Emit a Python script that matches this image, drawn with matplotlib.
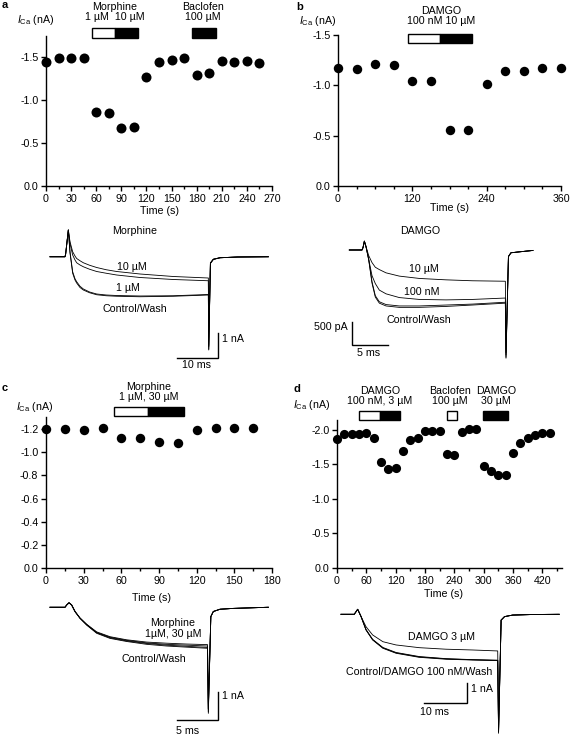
import matplotlib
matplotlib.use('Agg')
import matplotlib.pyplot as plt
from matplotlib.patches import Rectangle
from matplotlib.ticker import MultipleLocator, FormatStrFormatter

plt.rcParams['font.family'] = ['Liberation Sans', 'DejaVu Sans']
plt.rcParams['axes.unicode_minus'] = False
plt.rcParams['mathtext.fontset'] = 'custom'
plt.rcParams['mathtext.rm'] = 'Liberation Sans'
plt.rcParams['mathtext.it'] = 'Liberation Sans:italic'

# ---------------- time-course data (s, nA) ----------------
a_time = [0, 15, 30, 45, 60, 75, 90, 105, 120, 135, 150, 165, 180, 195, 210, 225, 240, 255]
a_ica = [-1.44, -1.49, -1.49, -1.49, -0.86, -0.845, -0.68, -0.69, -1.27, -1.44, -1.47, -1.49,
         -1.29, -1.31, -1.45, -1.44, -1.45, -1.43]

b_time = [0, 30, 60, 90, 120, 150, 180, 210, 240, 270, 300, 330, 360]
b_ica = [-1.17, -1.16, -1.21, -1.20, -1.04, -1.04, -0.56, -0.56, -1.01, -1.14, -1.14, -1.17, -1.17]

c_time = [0, 15, 30, 45, 60, 75, 90, 105, 120, 135, 150, 165]
c_ica = [-1.20, -1.20, -1.19, -1.21, -1.12, -1.12, -1.09, -1.08, -1.19, -1.21, -1.21, -1.21]

d_time = [0, 15, 30, 45, 60, 75, 90, 105, 120, 135, 150, 165, 180, 195, 210, 225, 240, 255,
          270, 285, 300, 315, 330, 345, 360, 375, 390, 405, 420, 435]
d_ica = [-1.87, -1.94, -1.94, -1.94, -1.95, -1.89, -1.53, -1.44, -1.45, -1.70, -1.86, -1.89,
         -1.99, -1.98, -1.99, -1.65, -1.64, -1.97, -2.01, -2.01, -1.48, -1.41, -1.35, -1.35,
         -1.66, -1.81, -1.89, -1.92, -1.95, -1.95]

# drug application periods (s): (start, end, fill)
a_drugs = [(55, 82, 'white'), (82, 110, 'black'), (174, 203, 'black')]
b_drugs = [(113, 164, 'white'), (164, 216, 'black')]
c_drugs = [(54, 81, 'white'), (81, 110, 'black')]
d_drugs = [(45, 87, 'white'), (87, 128, 'black'), (224, 246, 'white'), (299, 350, 'black')]

# ---------------- current traces (ms, nA) ----------------
ta = [0, 3.6, 3.75, 4.4, 4.8, 5.44, 6.0, 6.4, 7.2, 8.0, 9.5, 11.2, 13.5, 16.0, 21.6, 29.6,
      38.0, 38.1, 38.5, 39.2, 40.8, 45, 52.4]
a_control = [0, 0, 0.1, 1.07, 0.15, -0.66, -0.93, -1.05, -1.23, -1.33, -1.44, -1.52, -1.56,
             -1.58, -1.60, -1.58, -1.53, -3.73, -0.27, -0.11, -0.04, -0.01, 0]
a_wash = [0, 0, 0.1, 1.07, 0.2, -0.6, -0.88, -1.0, -1.18, -1.29, -1.41, -1.49, -1.53,
          -1.55, -1.57, -1.56, -1.51, -3.70, -0.25, -0.10, -0.04, -0.01, 0]
a_1uM = [0, 0, 0.1, 1.07, 0.53, 0.07, -0.13, -0.24, -0.33, -0.40, -0.50, -0.59, -0.66,
         -0.73, -0.83, -0.91, -0.96, -3.6, -0.25, -0.10, -0.04, -0.01, 0]
a_10uM = [0, 0, 0.1, 1.07, 0.6, 0.2, 0.03, -0.07, -0.16, -0.24, -0.34, -0.43, -0.52,
          -0.59, -0.69, -0.79, -0.85, -3.55, -0.25, -0.10, -0.04, -0.01, 0]

tb = [0, 1.76, 1.9, 2.09, 2.32, 2.69, 3.15, 3.61, 4.17, 5.10, 6.94, 9.72, 13.43, 17.1,
      21.67, 21.76, 22.1, 22.45, 23.6, 25.5]
b_control = [0, 0, 0.05, 0.19, 0.07, -0.21, -0.71, -1.01, -1.14, -1.20, -1.23, -1.23,
             -1.21, -1.18, -1.14, -2.32, -0.14, -0.06, -0.04, -0.01]
b_wash = [0, 0, 0.05, 0.19, 0.07, -0.20, -0.68, -0.98, -1.11, -1.17, -1.20, -1.20,
          -1.18, -1.16, -1.12, -2.30, -0.14, -0.06, -0.04, -0.01]
b_100nM = [0, 0, 0.05, 0.19, 0.07, -0.20, -0.55, -0.72, -0.86, -0.94, -1.02, -1.06,
           -1.07, -1.06, -1.03, -2.25, -0.14, -0.06, -0.04, -0.01]
b_10uM = [0, 0, 0.05, 0.19, 0.07, -0.12, -0.27, -0.37, -0.42, -0.49, -0.56, -0.61,
          -0.64, -0.66, -0.67, -2.20, -0.14, -0.06, -0.04, -0.01]

tc = [0, 1.8, 2.0, 2.28, 2.6, 3.0, 3.6, 4.4, 5.6, 7.2, 9.2, 11.6, 14.0, 16.4, 18.9, 19.0,
      19.3, 19.6, 20.4, 22.0, 26.2]
c_control = [0, 0, 0.08, 0.16, 0.08, -0.15, -0.39, -0.63, -0.92, -1.10, -1.21, -1.31, -1.37,
             -1.41, -1.45, -3.75, -0.33, -0.15, -0.07, -0.04, 0]
c_wash = [0, 0, 0.08, 0.16, 0.08, -0.15, -0.39, -0.62, -0.90, -1.08, -1.19, -1.28, -1.34,
          -1.38, -1.42, -3.70, -0.33, -0.15, -0.07, -0.04, 0]
c_1uM = [0, 0, 0.08, 0.16, 0.08, -0.15, -0.38, -0.61, -0.89, -1.06, -1.17, -1.26, -1.31,
         -1.34, -1.37, -3.6, -0.33, -0.15, -0.07, -0.04, 0]
c_30uM = [0, 0, 0.08, 0.16, 0.08, -0.15, -0.38, -0.60, -0.87, -1.04, -1.15, -1.23, -1.27,
          -1.30, -1.32, -3.6, -0.33, -0.15, -0.07, -0.04, 0]

td = [0, 3.1, 3.5, 3.9, 4.7, 5.85, 7.4, 9.8, 12.9, 18.3, 24.6, 30.8, 36.7, 36.9, 37.5,
      38.3, 40.2, 45, 51.1]
d_control = [0, 0, 0.13, 0.26, -0.12, -0.81, -1.33, -1.76, -2.02, -2.23, -2.33, -2.37, -2.40,
             -6.17, -0.30, -0.12, -0.04, -0.01, 0]
d_100nM = [0, 0, 0.13, 0.26, -0.12, -0.79, -1.30, -1.72, -1.98, -2.19, -2.30, -2.35, -2.38,
           -6.1, -0.30, -0.12, -0.04, -0.01, 0]
d_wash = [0, 0, 0.13, 0.26, -0.12, -0.80, -1.31, -1.74, -2.00, -2.21, -2.31, -2.36, -2.39,
          -6.1, -0.30, -0.12, -0.04, -0.01, 0]
d_3uM = [0, 0, 0.13, 0.26, -0.12, -0.64, -1.07, -1.42, -1.59, -1.73, -1.81, -1.85, -1.90,
         -6.0, -0.30, -0.12, -0.04, -0.01, 0]

FS = 7.7
W, H = 572, 736
fig = plt.figure(figsize=(W / 100, H / 100), dpi=100)


def add_ax(x0, y0, x1, y1):
    return fig.add_axes([x0 / W, 1 - y1 / H, (x1 - x0) / W, (y1 - y0) / H])


def ftext(x, y, s, ha='center', va='center', fontsize=FS, **kw):
    fig.text(x / W, 1 - y / H, s, ha=ha, va=va, fontsize=fontsize, **kw)


def scatter_panel(box, t, v, xmax, ymax, xmaj, xmin, ymaj, ms=7):
    ax = add_ax(*box)
    ax.plot(t, v, 'o', color='black', ms=ms, mew=0, clip_on=False, zorder=5)
    ax.set_xlim(0, xmax)
    ax.set_ylim(0, ymax)
    for s in ['top', 'right']:
        ax.spines[s].set_visible(False)
    for s in ['left', 'bottom']:
        ax.spines[s].set_linewidth(1.0)
    ax.xaxis.set_major_locator(MultipleLocator(xmaj))
    ax.xaxis.set_minor_locator(MultipleLocator(xmin))
    ax.yaxis.set_major_locator(MultipleLocator(ymaj))
    ax.yaxis.set_major_formatter(FormatStrFormatter('%.1f'))
    ax.tick_params(which='both', direction='out', width=1.0, labelsize=FS, pad=2)
    ax.tick_params(which='major', length=3.5)
    ax.tick_params(which='minor', length=2)
    ax.patch.set_visible(False)
    return ax


def drug_bars(ax, drugs, y0, y1):
    for x0, x1, fill in drugs:
        ax.add_patch(Rectangle((x0, y0), x1 - x0, y1 - y0, facecolor=fill,
                               edgecolor='black', lw=1.0, clip_on=False, zorder=6))


def trace_panel(box, xlim, ylim, t, traces):
    ax = add_ax(*box)
    ax.set_xlim(*xlim)
    ax.set_ylim(*ylim)
    ax.axis('off')
    for I in traces:
        ax.plot(t, I, color='black', lw=0.6)
    return ax


def scale_bar(ax, x0, x1, y0, y1):
    ax.plot([x0, x1, x1], [y0, y0, y1], color='black', lw=1.0, solid_joinstyle='miter')


ICA = r'$I_{\mathrm{Ca}}$ (nA)'

# ---------------- panel a ----------------
axa = scatter_panel((46, 35.5, 272, 186), a_time, a_ica, 270, -1.75, 30, 15, 0.5, ms=7.2)
drug_bars(axa, a_drugs, -1.721, -1.837)
ftext(5, 4.5, 'a', fontsize=8, fontweight='bold')
ftext(17, 23, ICA, ha='left', va='baseline')
ftext(115, 7.5, 'Morphine')
ftext(115, 17.5, '1 µM  10 µM')
ftext(203, 7.5, 'Baclofen')
ftext(203, 17.5, '100 µM')
ftext(159, 211, 'Time (s)')

tra = trace_panel((40, 215, 280, 375), (-2.4, 55.2), (-4.73, 1.67), ta,
                  [a_control, a_wash, a_1uM, a_10uM])
scale_bar(tra, 30.4, 40.4, -4.06, -3.06)
ftext(135, 231, 'Morphine')
ftext(132, 267, '10 µM')
ftext(128, 288, '1 µM')
ftext(135, 309, 'Control/Wash')
ftext(222, 339, '1 nA', ha='left')
ftext(196, 365, '10 ms')

# ---------------- panel b ----------------
axb = scatter_panel((338, 35, 561, 186), b_time, b_ica, 360, -1.5, 120, 30, 0.5, ms=6.8)
drug_bars(axb, b_drugs, -1.417, -1.506)
ftext(299.5, 6.5, 'b', fontsize=8, fontweight='bold')
ftext(299, 24, ICA, ha='left', va='baseline')
ftext(441, 10.5, 'DAMGO')
ftext(441, 20.5, '100 nM 10 µM')
ftext(450, 208, 'Time (s)')

trb = trace_panel((300, 215, 570, 375), (-6.85, 30.65), (-2.68, 0.75), tb,
                  [b_control, b_wash, b_100nM, b_10uM])
scale_bar(trb, 5.33, 0.33, -2.03, -1.535)
ftext(420, 231, 'DAMGO')
ftext(424, 269, '10 µM')
ftext(422, 292, '100 nM')
ftext(419, 320, 'Control/Wash')
ftext(348, 327, '500 pA', ha='right')
ftext(369, 353, '5 ms')

# ---------------- panel c ----------------
axc = scatter_panel((46, 417.5, 272, 568), c_time, c_ica, 180, -1.3, 30, 15, 0.2, ms=6.8)
drug_bars(axc, c_drugs, -1.313, -1.388)
ftext(4.5, 388, 'c', fontsize=8, fontweight='bold')
ftext(16, 410, ICA, ha='left', va='baseline')
ftext(149, 387, 'Morphine')
ftext(149, 396.5, '1 µM, 30 µM')
ftext(152, 598, 'Time (s)')

trc = trace_panel((40, 590, 280, 736), (-1.2, 27.6), (-4.55, 0.61), tc,
                  [c_control, c_wash, c_1uM, c_30uM])
scale_bar(trc, 15.2, 20.2, -3.98, -2.98)
ftext(173, 623, 'Morphine')
ftext(173, 634, '1µM, 30 µM')
ftext(154, 659, 'Control/Wash')
ftext(222, 696, '1 nA', ha='left')
ftext(188, 731, '5 ms')

# ---------------- panel d ----------------
axd = scatter_panel((337, 419.6, 562, 568), d_time, d_ica, 460, -2.15, 60, 30, 0.5, ms=6.6)
drug_bars(axd, d_drugs, -2.14, -2.28)
ftext(296.5, 389.5, 'd', fontsize=8, fontweight='bold')
ftext(293, 408, ICA, ha='left', va='baseline')
ftext(380, 390.5, 'DAMGO')
ftext(380, 400.5, '100 nM, 3 µM')
ftext(450, 390.5, 'Baclofen')
ftext(450, 400.5, '100 µM')
ftext(496, 390.5, 'DAMGO')
ftext(496, 400.5, '30 µM')
ftext(443, 594, 'Time (s)')

trd = trace_panel((330, 590, 572, 736), (-2.58, 54.1), (-6.31, 1.26), td,
                  [d_control, d_100nM, d_wash, d_3uM])
scale_bar(trd, 19.5, 29.5, -4.58, -3.58)
ftext(441, 637, 'DAMGO 3 µM')
ftext(419, 672, 'Control/DAMGO 100 nM/Wash')
ftext(471, 689, '1 nA', ha='left')
ftext(434, 712, '10 ms')

fig.savefig('out.png', dpi=100)
